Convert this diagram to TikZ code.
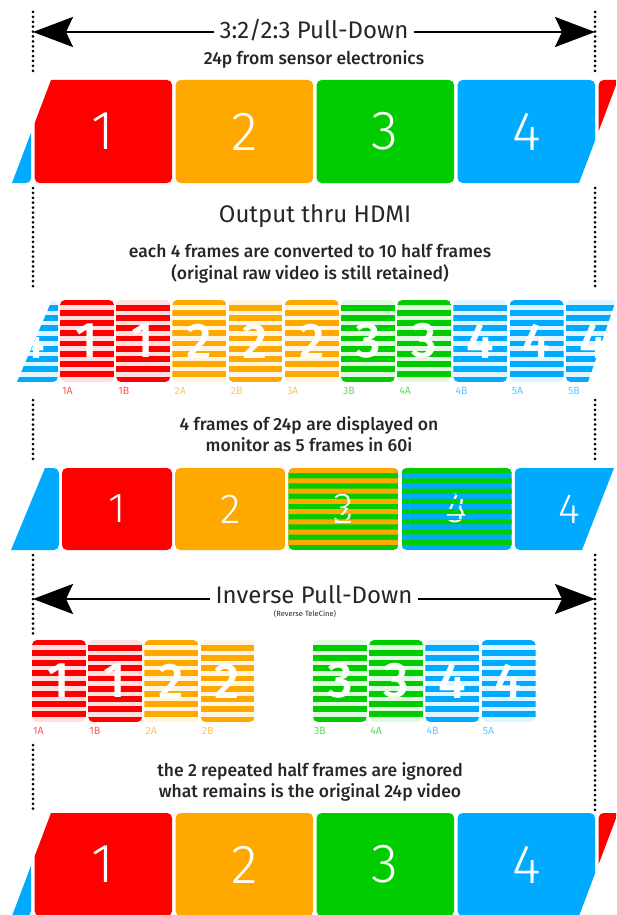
\documentclass[tikz,border=0pt]{standalone}
\usepackage{fontspec}
\setmainfont{Fira Sans}
\newfontfamily\thinfont{Fira Sans Light}
\newfontfamily\medfont{Fira Sans Medium}
\usetikzlibrary{arrows.meta}
\definecolor{frRed}{HTML}{FF0000}
\definecolor{frOrange}{HTML}{FFA800}
\definecolor{frGreen}{HTML}{00CC00}
\definecolor{frBlue}{HTML}{00AAFF}
\definecolor{ink}{HTML}{262626}
\tikzset{
  digit/.style={text=white, inner sep=0pt},
  title/.style={fill=white, inner sep=5pt, text=ink, font=\fontsize{24}{24}\selectfont},
  note/.style={text=ink, align=center, font=\medfont\fontsize{17.5}{21.5}\selectfont},
  fieldlabel/.style={anchor=west, inner sep=0pt, font=\fontsize{10.5}{10.5}\selectfont},
  guide/.style={black, line width=3pt, dash pattern=on 0pt off 4.9pt, line cap=round},
  bigarrow/.style={black, line width=2.4pt, -{Stealth[length=40pt,width=30pt,inset=7pt]}},
}
% whole frame: name, x, y, width, height, colour, digit, digit size
\newcommand{\fullframe}[8]{%
  \fill[#6, rounded corners=5pt] (#2,#3) rectangle ++(#4,#5);
  \node[digit, font=\thinfont\fontsize{#8}{#8}\selectfont] (#1) at ({#2+#4/2},{#3+#5/2}) {#7};
}
% half frame: name, x, y, colour, field (0 = A, 1 = B), digit
\newcommand{\halfframe}[6]{%
  \begin{scope}
    \clip[rounded corners=5pt] (#2,#3) rectangle ++(54,82);
    \fill[#4!12] (#2,#3) rectangle ++(54,82);
    \foreach \j in {0,2,...,14}
      \fill[#4] (#2,{#3+(\j+#5)*5.125-0.3}) rectangle ++(54,5.7);
  \end{scope}
  \node[digit, font=\medfont\fontsize{50}{50}\selectfont] (#1) at ({#2+27},{#3+41}) {#6};
}
% interlaced frame: name, x, y, colour A, digit A, colour B, digit B
\newcommand{\mixframe}[7]{%
  \begin{scope}
    \clip[rounded corners=5pt] (#2,#3) rectangle ++(110,82);
    \fill[#6] (#2,#3) rectangle ++(110,82);
    \node[digit, font=\thinfont\fontsize{42}{42}\selectfont] (#1b) at ({#2+55},{#3+41}) {#7};
    \clip foreach \j in {0,2,...,14} {(#2,{#3+\j*5.125}) rectangle ++(110,5.125)};
    \fill[#4] (#2,#3) rectangle ++(110,82);
    \node[digit, font=\thinfont\fontsize{42}{42}\selectfont] (#1a) at ({#2+55},{#3+41}) {#5};
  \end{scope}
}

\begin{document}
\begin{tikzpicture}[x=1pt, y=-1pt]
  \clip (0,0) rectangle (616,915);

  % dotted guides between the rows
  \foreach \x/\ya/\yb in {33/12/75, 33/188/288, 33/400/460, 33/555/637, 33/745/810,
                          595/12/75, 595/188/288, 595/400/460, 595/555/810}
    \draw[guide] (\x,\ya) -- (\x,\yb);

  % pull-down
  \node[title] (pd) at (314,30) {3:2/2:3 Pull-Down};
  \coordinate (pdL) at (33,32);
  \coordinate (pdR) at (595,32);
  \draw[bigarrow] (pd.west |- pdL) -- (pdL);
  \draw[bigarrow] (pd.east |- pdR) -- (pdR);
  \node[note] (sensor) at (314,59) {24p from sensor electronics};

  % 24p rows (top and bottom), the end slivers carry no digit
  \foreach \row/\y in {top/80, bot/813} {
    \begin{scope}
      \clip (51,\y) -- (618,\y) -- (579,\y+103) -- (12,\y+103) -- cycle;
      \foreach \k/\c/\d in {-1/frBlue/{}, 0/frRed/1, 1/frOrange/2, 2/frGreen/3, 3/frBlue/4, 4/frRed/{}} {
        \fullframe{\row\k}{34.6+141*\k}{\y}{137.5}{103}{\c}{\d}{55}
      }
    \end{scope}
  }

  \node[title] (hdmi) at (315,216) {Output thru HDMI};
  \node[note] (conv) at (310,264) {each 4 frames are converted to 10 half frames\\(original raw video is still retained)};

  % half frames
  \begin{scope}
    \clip (52,300) -- (616,300) -- (588,382) -- (17,382) -- cycle;
    \foreach \k/\c/\p/\d in {-1/frBlue/1/4, 0/frRed/0/1, 1/frRed/1/1, 2/frOrange/0/2, 3/frOrange/1/2,
                             4/frOrange/0/2, 5/frGreen/1/3, 6/frGreen/0/3, 7/frBlue/1/4, 8/frBlue/0/4, 9/frBlue/1/4} {
      \halfframe{hf\k}{60+56.2*\k}{300}{\c}{\p}{\d}
    }
  \end{scope}
  \foreach \k/\c/\t in {0/frRed/1A, 1/frRed/1B, 2/frOrange/2A, 3/frOrange/2B, 4/frOrange/3A,
                        5/frGreen/3B, 6/frGreen/4A, 7/frBlue/4B, 8/frBlue/5A, 9/frBlue/5B}
    \node[fieldlabel, text=\c!65] (hl\k) at (62+56.2*\k,391) {\t};

  \node[note] (mon) at (309,434) {4 frames of 24p are displayed on\\monitor as 5 frames in 60i};

  % 60i row
  \begin{scope}
    \clip (45,468) -- (614,468) -- (582,550) -- (11,550) -- cycle;
    \foreach \k/\c/\d in {-1/frBlue/{}, 0/frRed/1, 1/frOrange/2, 4/frBlue/4} {
      \fullframe{mf\k}{62+113.2*\k}{468}{110}{82}{\c}{\d}{42}
    }
    \mixframe{mf2}{62+113.2*2}{468}{frOrange}{2}{frGreen}{3}
    \mixframe{mf3}{62+113.2*3}{468}{frGreen}{3}{frBlue}{4}
  \end{scope}

  % inverse pull-down
  \node[title] (ipd) at (314,595) {Inverse Pull-Down};
  \coordinate (ipdL) at (33,599);
  \coordinate (ipdR) at (595,599);
  \draw[bigarrow] (ipd.west |- ipdL) -- (ipdL);
  \draw[bigarrow] (ipd.east |- ipdR) -- (ipdR);
  \node[text=ink, inner sep=0pt, font=\fontsize{7.5}{7.5}\selectfont] (rtc) at (305,614) {(Reverse TeleCine)};

  \foreach \k/\c/\p/\d/\t in {0/frRed/0/1/1A, 1/frRed/1/1/1B, 2/frOrange/0/2/2A, 3/frOrange/1/2/2B,
                              5/frGreen/1/3/3B, 6/frGreen/0/3/4A, 7/frBlue/1/4/4B, 8/frBlue/0/4/5A} {
    \halfframe{iv\k}{32+56.2*\k}{640}{\c}{\p}{\d}
    \node[fieldlabel, text=\c!65] (il\k) at (33+56.2*\k,731) {\t};
  }

  \node[note] (ign) at (310,782) {the 2 repeated half frames are ignored\\what remains is the original 24p video};
\end{tikzpicture}
\end{document}
